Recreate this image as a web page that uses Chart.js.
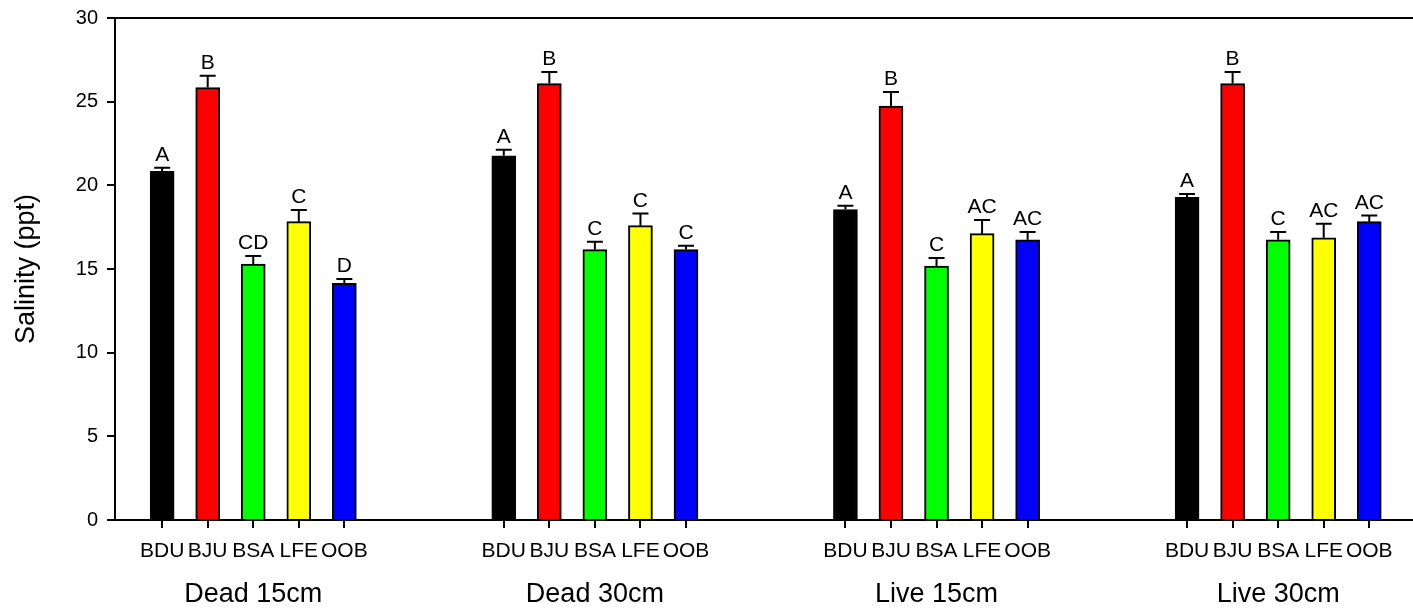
<!DOCTYPE html>
<html>
<head>
<meta charset="utf-8">
<script src="https://cdn.jsdelivr.net/npm/chart.js@4.4.1/dist/chart.umd.min.js"></script>
<style>
body { margin: 0; background: #fff; }
</style>
</head>
<body>
<canvas id="myChart" width="1413" height="610"></canvas>
<script>
// groups along the x axis and the five sites inside each group
var groups = ['Dead 15cm', 'Dead 30cm', 'Live 15cm', 'Live 30cm'];
var sites = ['BDU', 'BJU', 'BSA', 'LFE', 'OOB'];

// mean salinity (ppt) per site, one value per group
var bdu = [20.84, 21.77, 18.55, 19.28];
var bju = [25.84, 26.08, 24.74, 26.08];
var bsa = [15.30, 16.16, 15.18, 16.75];
var lfe = [17.83, 17.59, 17.11, 16.87];
var oob = [14.15, 16.16, 16.75, 17.83];

// standard error (upper bar only)
var bduErr = [0.21, 0.36, 0.23, 0.20];
var bjuErr = [0.71, 0.69, 0.84, 0.69];
var bsaErr = [0.48, 0.47, 0.48, 0.46];
var lfeErr = [0.70, 0.72, 0.82, 0.84];
var oobErr = [0.25, 0.23, 0.46, 0.36];

// significance letters
var bduLetters = ['A', 'A', 'A', 'A'];
var bjuLetters = ['B', 'B', 'B', 'B'];
var bsaLetters = ['CD', 'C', 'C', 'C'];
var lfeLetters = ['C', 'C', 'AC', 'AC'];
var oobLetters = ['D', 'C', 'AC', 'AC'];

var yTicks = [0, 5, 10, 15, 20, 25, 30];

var means = [bdu, bju, bsa, lfe, oob];
var errs = [bduErr, bjuErr, bsaErr, lfeErr, oobErr];
var letters = [bduLetters, bjuLetters, bsaLetters, lfeLetters, oobLetters];
var colors = ['#000000', '#ff0000', '#00ff00', '#ffff00', '#0000ff'];

// x layout in "slots": 2 slots between sites, 15 between groups
function slot(gi, si) { return gi * 15 + si * 2; }
var positions = [];
groups.forEach(function (g, gi) {
    sites.forEach(function (s, si) { positions.push(slot(gi, si)); });
});
var xMin = -2.07, xMax = 54.92;

Chart.defaults.font.family = 'Arial, "Liberation Sans", sans-serif';
Chart.defaults.color = '#000';

var errorBars = {
    id: 'errorBars',
    afterDatasetsDraw: function (chart) {
        var ctx = chart.ctx;
        var y = chart.scales.y;
        ctx.save();
        ctx.strokeStyle = '#000';
        ctx.lineWidth = 2;
        ctx.fillStyle = '#000';
        ctx.font = '21px Arial, "Liberation Sans", sans-serif';
        ctx.textAlign = 'center';
        ctx.textBaseline = 'alphabetic';
        chart.data.datasets.forEach(function (ds, si) {
            chart.getDatasetMeta(si).data.forEach(function (bar, gi) {
                var top = y.getPixelForValue(means[si][gi] + errs[si][gi]);
                ctx.beginPath();
                ctx.moveTo(bar.x, bar.y);
                ctx.lineTo(bar.x, top);
                ctx.moveTo(bar.x - 8, top);
                ctx.lineTo(bar.x + 8, top);
                ctx.stroke();
                ctx.fillText(letters[si][gi], bar.x, top - 7);
            });
        });
        // top frame line
        var a = chart.chartArea;
        ctx.beginPath();
        ctx.moveTo(a.left, a.top);
        ctx.lineTo(a.right, a.top);
        ctx.stroke();
        ctx.restore();
    }
};

var datasets = sites.map(function (s, si) {
    return {
        label: s,
        data: groups.map(function (g, gi) { return { x: slot(gi, si), y: means[si][gi] }; }),
        backgroundColor: colors[si],
        borderColor: '#000',
        borderWidth: 2,
        barThickness: 24,
        grouped: false
    };
});

var ctx = document.getElementById('myChart').getContext('2d');
var chart = new Chart(ctx, {
    type: 'bar',
    data: { datasets: datasets },
    options: {
        responsive: false,
        animation: false,
        devicePixelRatio: 1,
        layout: { padding: { top: 18, left: 0, right: 0, bottom: 0 } },
        plugins: { legend: { display: false }, tooltip: { enabled: false } },
        scales: {
            x: {
                type: 'linear',
                offset: false,
                min: xMin,
                max: xMax,
                afterBuildTicks: function (axis) {
                    axis.ticks = positions.map(function (v) { return { value: v }; });
                },
                ticks: {
                    autoSkip: false, maxRotation: 0, minRotation: 0,
                    font: { size: 21 }, padding: 11,
                    callback: function (v, i) { return sites[i % sites.length]; }
                },
                grid: { offset: false, drawOnChartArea: false, tickLength: 8, color: '#000', lineWidth: 2 },
                border: { color: '#000', width: 2 },
                afterFit: function (axis) { axis.height = 49; }
            },
            x2: {
                type: 'linear',
                position: 'bottom',
                offset: false,
                min: xMin,
                max: xMax,
                afterBuildTicks: function (axis) {
                    axis.ticks = groups.map(function (g, gi) { return { value: slot(gi, 2) }; });
                },
                ticks: {
                    autoSkip: false, maxRotation: 0, minRotation: 0,
                    font: { size: 27 }, padding: 1,
                    callback: function (v, i) { return groups[i]; }
                },
                grid: { display: false, offset: false },
                border: { display: false },
                afterFit: function (axis) { axis.height = 41; }
            },
            y: {
                min: 0,
                max: 30,
                afterBuildTicks: function (axis) {
                    axis.ticks = yTicks.map(function (v) { return { value: v }; });
                },
                ticks: { font: { size: 20 }, padding: 9 },
                grid: { drawOnChartArea: false, tickLength: 8, color: '#000', lineWidth: 2 },
                border: { color: '#000', width: 2 },
                title: { display: true, text: 'Salinity (ppt)', font: { size: 27 }, padding: { top: 10, bottom: 0 } },
                afterFit: function (axis) {
                    axis.width = 115;
                    axis.paddingTop = 0;
                    axis.paddingBottom = 0;
                }
            }
        }
    },
    plugins: [errorBars]
});
</script>
</body>
</html>
